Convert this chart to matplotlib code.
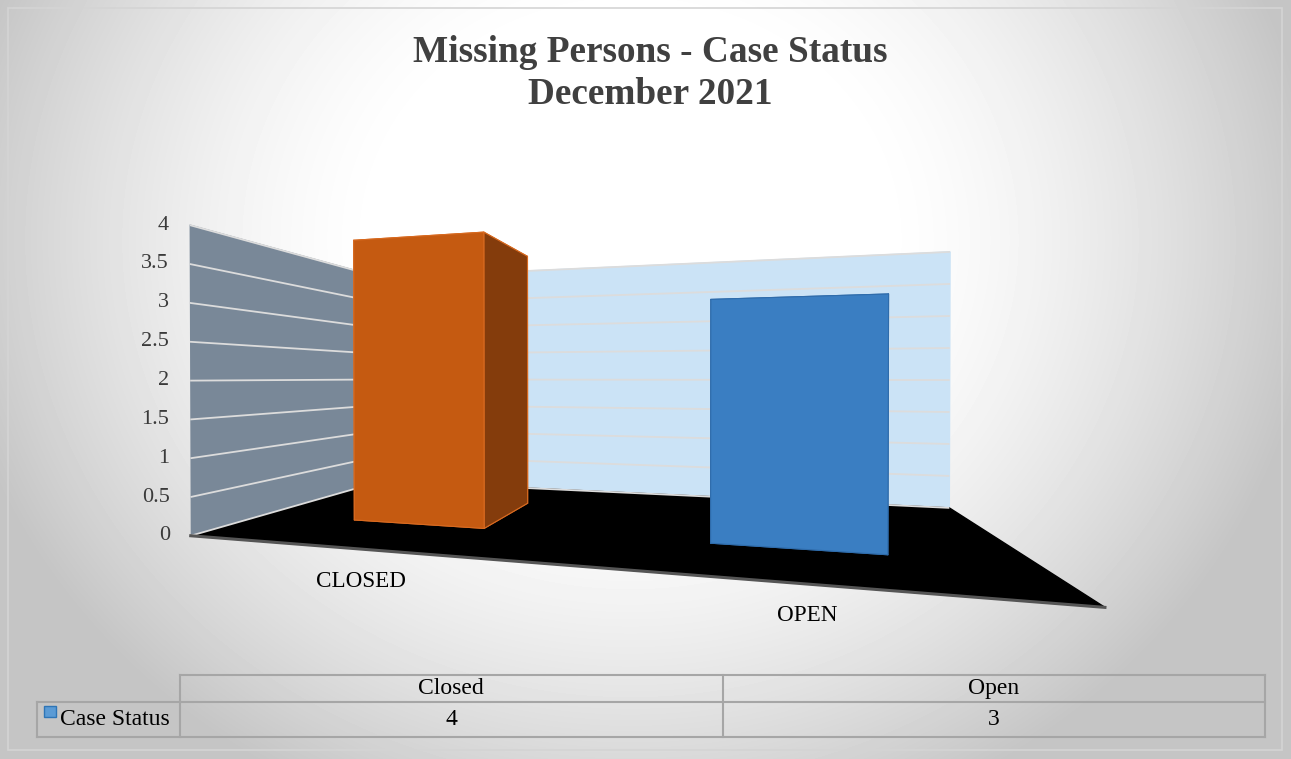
import warnings
import numpy as np
import matplotlib
matplotlib.use('Agg')
import matplotlib.pyplot as plt
from matplotlib.patches import Rectangle
from mpl_toolkits.mplot3d import proj3d

plt.rcParams['font.family'] = ['Liberation Serif', 'DejaVu Serif']

# data
title_lines = ['Missing Persons - Case Status', 'December 2021']
categories = ['CLOSED', 'OPEN']
table_cols = ['Closed', 'Open']
series_name = 'Case Status'
values = [4, 3]
z_ticks = [0, 0.5, 1, 1.5, 2, 2.5, 3, 3.5, 4]

W, H = 1291, 759
fig = plt.figure(figsize=(W / 100, H / 100), dpi=100)

# background with radial light
bg = fig.add_axes([0, 0, 1, 1])
bg.set_xlim(0, W)
bg.set_ylim(H, 0)
bg.axis('off')
yy, xx = np.mgrid[0:H, 0:W]
r = np.sqrt(((xx - 630) / 690.) ** 2 + ((yy - 240) / 620.) ** 2)
shade = 1 - 0.23 * np.clip((r - 0.35) / 0.65, 0, 1) ** 1.5
bg.imshow(shade, cmap='gray', vmin=0, vmax=1, extent=(0, W, H, 0),
          aspect='auto', zorder=0)
bg.add_patch(Rectangle((8, 8), W - 17, H - 17, fill=False,
                       ec='#d4d4d4', lw=1.2, zorder=1))

# 3d chart
ax = fig.add_axes([0, 0, 1, 1], projection='3d', computed_zorder=True)
ax.set_facecolor((0, 0, 0, 0))
ax.view_init(elev=0.3, azim=-76.6)
ax.set_box_aspect((2.49, 1.0, 0.99))
ba = ax._box_aspect
ax.set_proj_type('persp', focal_length=0.823 * ba[0] / 10)

bar_w, bar_d, bar_y = 0.4, 0.4, 0.3
n = len(values)
xpos = np.arange(n) - bar_w / 2
front = ['#c55a11', '#3a7ec2']
side = ['#843c0c', '#3a7ec2']
edge = ['#d86a20', '#2f6cab']
fc, ec = [], []
for i in range(n):
    # faces: -z, +z, -y, +y, -x, +x
    fc += [side[i], side[i], front[i], side[i], front[i], side[i]]
    ec += [edge[i]] * 6
ax.bar3d(xpos, [bar_y] * n, [0] * n, bar_w, bar_d, values,
         color=fc, edgecolors=ec, linewidth=0.8, shade=False)
edge_line, = ax.plot([-0.5, n - 0.5], [0, 0], [0, 0], color='#555555', lw=2.2)
edge_line.set_clip_on(False)

try:
    ax.set_xlim(-0.5, n - 0.5, view_margin=0)
    ax.set_ylim(0, 1, view_margin=0)
    ax.set_zlim(0, 4, view_margin=0)
except TypeError:
    ax.set_xlim(-0.5, n - 0.5)
    ax.set_ylim(0, 1)
    ax.set_zlim(0, 4)

ax.xaxis.set_pane_color('#798898')
ax.yaxis.set_pane_color('#cbe3f6')
ax.zaxis.set_pane_color('#000000')
for a in (ax.xaxis, ax.yaxis, ax.zaxis):
    a.line.set_color((0, 0, 0, 0))
ax.set_xticks([])
ax.set_yticks([])
ax.set_zticks(z_ticks)
ax.zaxis.set_ticklabels([])
ax.tick_params(axis='z', colors=(0, 0, 0, 0))
ax.zaxis._axinfo['tick']['inward_factor'] = 0
ax.zaxis._axinfo['tick']['outward_factor'] = 0
ax.zaxis._axinfo['grid'].update(color='#dcdcdc', linewidth=1.3)

# put the box centre on the eye point of the original
cx, cy = 606.6, 380.3
x0, x1 = ax.viewLim.intervalx
y0, y1 = ax.viewLim.intervaly
S = 7060 * (x1 - x0) / ba[0]
left = cx - S * (0 - x0) / (x1 - x0)
bottom = (H - cy) - S * (0 - y0) / (y1 - y0)
ax.set_position([left / W, bottom / H, S / W, S / H])

M = ax.get_proj()
with warnings.catch_warnings():
    warnings.simplefilter('ignore')
    for t in z_ticks:
        px, py, _ = proj3d.proj_transform(-0.5, 0, t, M)
        ax.annotate(f'{t:g}', xy=(px, py), xytext=(-15, 0),
                    textcoords='offset points', ha='right', va='center',
                    fontsize=16, color='#3a3a3a', annotation_clip=False)
    for i, c in enumerate(categories):
        px, py, _ = proj3d.proj_transform(i, 0, 0, M)
        ax.annotate(c, xy=(px, py), xytext=(0, -23),
                    textcoords='offset points', ha='center', va='center',
                    fontsize=16.7, color='black', annotation_clip=False)

# title
fig.text(650 / W, 1 - 52 / H, title_lines[0], ha='center', va='center',
         fontsize=26.8, fontweight='bold', color='#404040')
fig.text(650 / W, 1 - 95 / H, title_lines[1], ha='center', va='center',
         fontsize=26.8, fontweight='bold', color='#404040')

# data table
tc = '#a6a6a6'
top, mid, bot = 675, 702, 737
xl, xa, xb = 37, 180, 1265
cw = (xb - xa) / n
bg.plot([xa, xb], [top, top], color=tc, lw=1.5, zorder=2)
bg.plot([xl, xb], [mid, mid], color=tc, lw=1.5, zorder=2)
bg.plot([xl, xb], [bot, bot], color=tc, lw=1.5, zorder=2)
bg.plot([xl, xl], [mid, bot], color=tc, lw=1.5, zorder=2)
for i in range(n + 1):
    bg.plot([xa + i * cw] * 2, [top, bot], color=tc, lw=1.5, zorder=2)
for i in range(n):
    bg.text(xa + (i + 0.5) * cw, (top + mid) / 2, table_cols[i],
            ha='center', va='center', fontsize=17, color='black', zorder=3)
    bg.text(xa + (i + 0.5) * cw, (mid + bot) / 2, f'{values[i]:g}',
            ha='center', va='center', fontsize=17, color='black', zorder=3)
bg.add_patch(Rectangle((44, 706), 12, 11, fc='#5b9bd5', ec='#2e75b6',
                       lw=1, zorder=3))
bg.text(60, (mid + bot) / 2, series_name, ha='left', va='center',
        fontsize=17, color='black', zorder=3)

fig.savefig('out.png', dpi=100)
